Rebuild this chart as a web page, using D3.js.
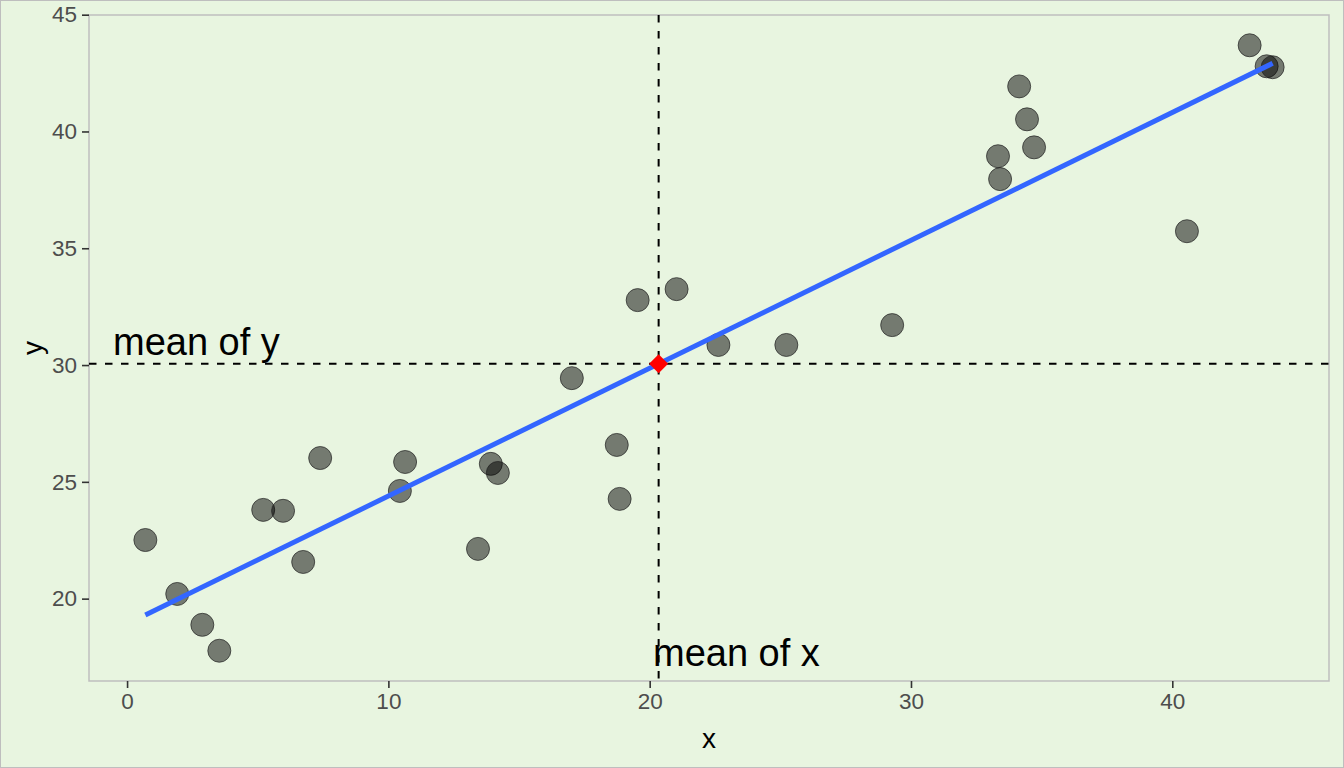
<!DOCTYPE html>
<html>
<head>
<meta charset="utf-8">
<script src="https://cdn.jsdelivr.net/npm/d3@7"></script>
<style>
  body { margin: 0; background: #e8f5e0; }
  svg { display: block; font-family: "Liberation Sans", Arial, sans-serif; }
</style>
</head>
<body>
<svg id="chart" width="1344" height="768"></svg>
<script>
// values
var xs = [0.70, 1.92, 2.88, 3.53, 5.21, 5.97, 6.74, 7.39, 10.44, 10.64,
          13.43, 13.92, 14.19, 17.02, 18.74, 18.85, 19.54, 21.03, 22.63, 25.23,
          29.28, 33.33, 33.41, 34.14, 34.44, 34.71, 40.56, 42.96, 43.61, 43.84];
var ys = [22.51, 20.20, 18.88, 17.77, 23.80, 23.76, 21.57, 26.02, 24.61, 25.85,
          22.13, 25.77, 25.38, 29.44, 26.58, 24.27, 32.78, 33.25, 30.86, 30.86,
          31.71, 38.94, 37.96, 41.93, 40.52, 39.32, 35.73, 43.69, 42.79, 42.75];
var xTicks = [0, 10, 20, 30, 40];
var yTicks = [20, 25, 30, 35, 40, 45];

var width = 1344, height = 768;
var margin = {left: 89, right: 15, top: 15, bottom: 87};

var data = xs.map(function (x, i) { return {x: x, y: ys[i]}; });

var meanX = d3.mean(xs), meanY = d3.mean(ys);

// least squares fit
var sxy = 0, sxx = 0;
data.forEach(function (d) {
    sxy += (d.x - meanX) * (d.y - meanY);
    sxx += (d.x - meanX) * (d.x - meanX);
});
var slope = sxy / sxx;
var intercept = meanY - slope * meanX;

function expand(ext) {
    var pad = (ext[1] - ext[0]) * 0.05;
    return [ext[0] - pad, ext[1] + pad];
}

var x = d3.scaleLinear()
    .domain(expand(d3.extent(xs)))
    .range([margin.left, width - margin.right]);
var y = d3.scaleLinear()
    .domain(expand(d3.extent(ys)))
    .range([height - margin.bottom, margin.top]);

var svg = d3.select("#chart");

// outer border
svg.append("rect")
    .attr("x", 0.5).attr("y", 0.5)
    .attr("width", width - 1).attr("height", height - 1)
    .attr("fill", "#e8f5e0")
    .attr("stroke", "#bebebe");

// panel
svg.append("rect")
    .attr("x", x.range()[0]).attr("y", y.range()[1])
    .attr("width", x.range()[1] - x.range()[0])
    .attr("height", y.range()[0] - y.range()[1])
    .attr("fill", "#e8f5e0")
    .attr("stroke", "#bebebe")
    .attr("stroke-width", 1.5);

// axes
var xAxis = svg.append("g")
    .attr("transform", "translate(0," + y.range()[0] + ")")
    .call(d3.axisBottom(x).tickValues(xTicks).tickSize(7).tickPadding(5));
var yAxis = svg.append("g")
    .attr("transform", "translate(" + x.range()[0] + ",0)")
    .call(d3.axisLeft(y).tickValues(yTicks).tickSize(7).tickPadding(5));
[xAxis, yAxis].forEach(function (ax) {
    ax.attr("font-size", 22.5).attr("font-family", "'Liberation Sans', Arial, sans-serif");
    ax.select(".domain").remove();
    ax.selectAll("line").attr("stroke", "#333333").attr("stroke-width", 1.6);
    ax.selectAll("text").attr("fill", "#4d4d4d");
});

// axis titles
svg.append("text")
    .attr("x", (x.range()[0] + x.range()[1]) / 2)
    .attr("y", 748)
    .attr("text-anchor", "middle")
    .style("font-size", "28px")
    .text("x");
svg.append("text")
    .attr("transform", "translate(42," + ((y.range()[0] + y.range()[1]) / 2) + ") rotate(-90)")
    .attr("text-anchor", "middle")
    .style("font-size", "28px")
    .text("y");

// mean lines
svg.append("line")
    .attr("x1", x(meanX)).attr("x2", x(meanX))
    .attr("y1", y.range()[1]).attr("y2", y.range()[0])
    .attr("stroke", "black").attr("stroke-width", 2)
    .attr("stroke-dasharray", "7.5,8.5");
svg.append("line")
    .attr("x1", x.range()[0]).attr("x2", x.range()[1])
    .attr("y1", y(meanY)).attr("y2", y(meanY))
    .attr("stroke", "black").attr("stroke-width", 2)
    .attr("stroke-dasharray", "7.5,8.5");

// points
svg.append("g")
    .selectAll("circle")
    .data(data)
    .enter()
    .append("circle")
    .attr("cx", function (d) { return x(d.x); })
    .attr("cy", function (d) { return y(d.y); })
    .attr("r", 11.5)
    .attr("fill", "black")
    .attr("fill-opacity", 0.5)
    .attr("stroke", "#222")
    .attr("stroke-opacity", 0.7)
    .attr("stroke-width", 1);

// fitted line
var xmin = d3.min(xs), xmax = d3.max(xs);
svg.append("line")
    .attr("x1", x(xmin)).attr("y1", y(intercept + slope * xmin))
    .attr("x2", x(xmax)).attr("y2", y(intercept + slope * xmax))
    .attr("stroke", "#3366ff")
    .attr("stroke-width", 5);

// mean point
svg.append("path")
    .attr("transform", "translate(" + x(meanX) + "," + y(meanY) + ") rotate(45)")
    .attr("d", d3.symbol().type(d3.symbolSquare).size(180))
    .attr("fill", "red");

// annotations
svg.append("text")
    .attr("x", 113)
    .attr("y", 355)
    .style("font-size", "38px")
    .attr("fill", "black")
    .text("mean of y");
svg.append("text")
    .attr("x", 653)
    .attr("y", 666)
    .style("font-size", "38px")
    .attr("fill", "black")
    .text("mean of x");
</script>
</body>
</html>
